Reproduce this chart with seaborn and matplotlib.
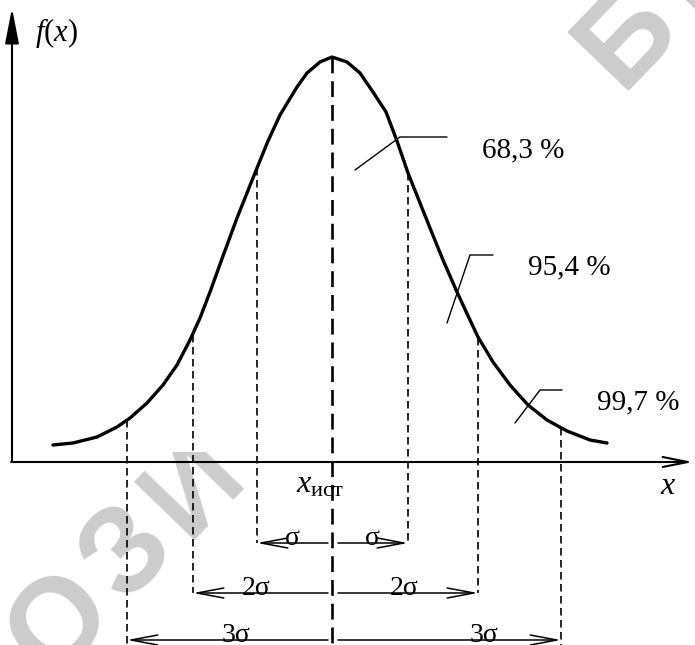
import numpy as np
import matplotlib
matplotlib.use('Agg')
import matplotlib.pyplot as plt
from matplotlib.patches import Rectangle
import seaborn as sns

curve_x = [41, 61, 85, 105, 118, 135, 151, 165, 178, 188, 198, 211, 225, 235, 245,
           256, 268, 285, 295, 308, 320, 335, 348, 361, 374, 385, 396, 408, 420, 431,
           445, 458, 466, 481, 498, 516, 535, 555, 578, 595]
curve_f = [17, 19, 25, 35, 44, 59, 77, 97, 122, 144, 170, 206, 244, 269, 294,
           321, 347, 375, 389, 400, 405, 400, 389, 370, 350, 321, 289, 259, 229, 202,
           170, 142, 125, 100, 77, 57, 42, 31, 22, 19]

# centre (x_ист) and the sigma marks, with the curve height at each
x_centre = 320
f_centre = 405
sigma_left_x = [245, 181, 115]
sigma_left_f = [294, 127, 42]
sigma_right_x = [396, 466, 549]
sigma_right_f = [289, 124, 34]
sigma_labels = ['σ', '2σ', '3σ']

pct_labels = ['68,3 %', '95,4 %', '99,7 %']

# layout
row_y = [-81, -131, -178]
label_left_x = [280, 244, 224]
label_right_x = [360, 392, 472]
pct_pos = [(470, 312), (516, 195), (585, 60)]
leaders = [[(343, 292), (388, 325), (435, 325)],
           [(435, 139), (458, 207), (481, 207)],
           [(503, 39), (528, 72), (550, 72)]]
watermark = 'РЕПОЗИТОРИЙ БГТУ'

sns.set_theme(style='white')
plt.rcParams['font.family'] = ['Liberation Serif', 'DejaVu Serif']
plt.rcParams['text.color'] = 'black'
plt.rcParams['mathtext.fontset'] = 'custom'
plt.rcParams['mathtext.rm'] = 'Liberation Serif'
plt.rcParams['mathtext.it'] = 'Liberation Serif:italic'

fig = plt.figure(figsize=(6.95, 6.45), dpi=100)
ax = fig.add_axes([0, 0, 1, 1])
ax.set_xlim(-12, 683)
ax.set_ylim(-183, 462)
ax.axis('off')

# watermark behind the drawing, hidden over the plot area
ang = np.deg2rad(46)
pos = -4.0
for ch in watermark:
    if ch == ' ':
        pos += 0.5
        continue
    wx = 116 + pos * 96 * np.cos(ang)
    wy = -93 + pos * 96 * np.sin(ang)
    if -60 < wx < 740 and -240 < wy < 520:
        ax.text(wx, wy, ch, rotation=46, rotation_mode='anchor', ha='center', va='center',
                fontsize=88, fontweight='bold', family='Liberation Sans', color='#cccccc',
                zorder=0.5)
    pos += 1
ax.add_patch(Rectangle((1, 10), 682, 362, facecolor='white', edgecolor='none', zorder=1))
ax.add_patch(Rectangle((1, 10), 517, 460, facecolor='white', edgecolor='none', zorder=1))

# axes with arrows
ax.annotate('', xy=(0, 454), xytext=(0, 0),
            arrowprops=dict(arrowstyle='-|>,head_length=1.8,head_width=0.35', lw=1.5,
                            color='black', shrinkA=0, shrinkB=0), zorder=3)
ax.annotate('', xy=(681, 0), xytext=(-1, 0),
            arrowprops=dict(arrowstyle='->,head_length=1.5,head_width=0.3', lw=1.5,
                            color='black', shrinkA=0, shrinkB=0), zorder=3)

# the curve
sns.lineplot(x=curve_x, y=curve_f, color='black', lw=2.4, ax=ax, zorder=4,
             solid_joinstyle='round', solid_capstyle='round')

# centre line
ax.plot([x_centre, x_centre], [f_centre, -183], color='black', lw=1.9,
        linestyle=(0, (6, 3)), zorder=3)

# sigma marks and arrows
for k in range(3):
    bottom = row_y[k] if k < 2 else -183
    ax.plot([sigma_left_x[k]] * 2, [sigma_left_f[k], bottom], color='black', lw=1.2,
            linestyle=(0, (4.5, 2.7)), zorder=3)
    ax.plot([sigma_right_x[k]] * 2, [sigma_right_f[k], bottom], color='black', lw=1.2,
            linestyle=(0, (4.5, 2.7)), zorder=3)
    for start, end in [(x_centre - 4, sigma_left_x[k]), (x_centre + 6, sigma_right_x[k])]:
        ax.annotate('', xy=(end, row_y[k]), xytext=(start, row_y[k]),
                    arrowprops=dict(arrowstyle='->,head_length=1.6,head_width=0.3', lw=1.1,
                                    color='black', shrinkA=0, shrinkB=0), zorder=3)
    ax.text(label_left_x[k], row_y[k] - 2, sigma_labels[k], ha='center', va='baseline',
            fontsize=20, zorder=5)
    ax.text(label_right_x[k], row_y[k] - 2, sigma_labels[k], ha='center', va='baseline',
            fontsize=20, zorder=5)

# percentage call-outs
for lab, p, pts in zip(pct_labels, pct_pos, leaders):
    ax.plot([q[0] for q in pts], [q[1] for q in pts], color='black', lw=1.0, zorder=4)
    ax.text(p[0], p[1], lab, ha='left', va='center', fontsize=21, zorder=5)

# axis labels
ax.text(23, 429, r'$f(x)$', ha='left', va='center', fontsize=22, zorder=5)
ax.text(656, -25, r'$x$', ha='center', va='center', fontsize=23, zorder=5)
ax.text(308, -23, r'$x_{\mathrm{ист}}$', ha='center', va='center', fontsize=23, zorder=5)

fig.savefig('out.png', dpi=100, facecolor='white')
